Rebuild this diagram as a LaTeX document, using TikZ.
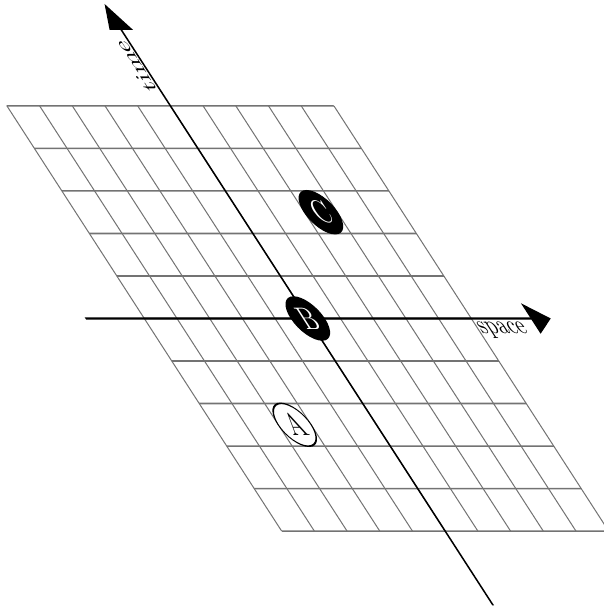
\documentclass[tikz,border=0pt]{standalone}
\usetikzlibrary{arrows.meta}

\begin{document}
\begin{tikzpicture}[
    gridline/.style={black!55, line width=0.6pt},
    axis/.style={black, line width=0.9pt, -{Triangle[width=11.5pt, length=10pt]}},
    event/.style={circle, draw=black, line width=0.6pt, minimum size=16.5pt, inner sep=0pt, font=\large},
  ]
  \useasboundingbox (-153.9pt,-145.75pt) rectangle (148.1pt,159.25pt);
  % the whole plane is stretched and sheared
  \begin{scope}[x=16.35pt, y=16.35pt, transform canvas={cm={1,0,-0.84,1.3,(0,0)}}]
    % --- Grid ---
    \foreach \i in {-5,...,5} {
      \draw[gridline] (-5,\i) -- (5,\i);
      \draw[gridline] (\i,-5) -- (\i,5);
    }

    % --- Axes ---
    \coordinate (space-start) at (-6.8,0);
    \coordinate (space-end) at (7.43,0);
    \coordinate (time-start) at (0,-6.75);
    \coordinate (time-end) at (0,7.4);
    \draw[axis] (space-start) -- (space-end);
    \draw[axis] (time-start) -- (time-end);
    \node[anchor=north, inner sep=1pt] (space-label) at (5.76,0) {space};
    \node[rotate=90, anchor=south, inner sep=1pt] (time-label) at (0,5.94) {time};

    % --- Events ---
    \node[event, fill=white] (A) at (-2.5,-2.5) {A};
    \node[event, fill=black, text=white] (B) at (0,0) {B};
    \node[event, fill=black, text=white] (C) at (2.5,2.5) {C};
  \end{scope}
\end{tikzpicture}
\end{document}
